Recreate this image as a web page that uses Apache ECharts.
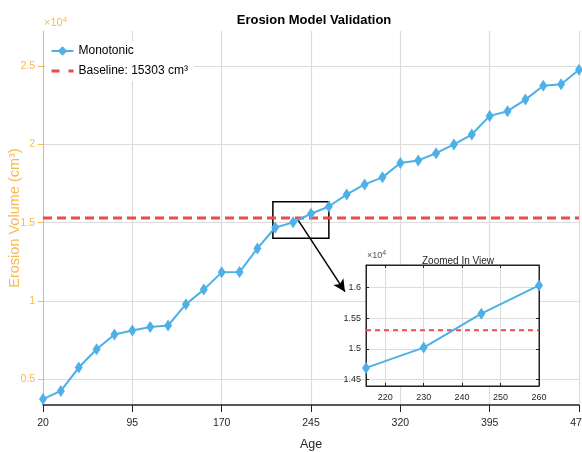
<!DOCTYPE html>
<html>
<head>
<meta charset="utf-8">
<script src="https://cdn.jsdelivr.net/npm/echarts@6/dist/echarts.min.js"></script>
<style>html,body{margin:0;padding:0;background:#fff}#c{width:582px;height:452px}</style>
</head>
<body>
<div id="c"></div>
<script>
// ---- data ----
var ages = [20, 35, 50, 65, 80, 95, 110, 125, 140, 155, 170, 185, 200, 215, 230, 245, 260, 275, 290, 305, 320, 335, 350, 365, 380, 395, 410, 425, 440, 455, 470];
var volume = [3745, 4270, 5760, 6930, 7870, 8120, 8350, 8440, 9800, 10730, 11830, 11850, 13360, 14690, 15020, 15570, 16030, 16800, 17440, 17890, 18800, 18970, 19430, 19990, 20620, 21810, 22110, 22850, 23730, 23830, 24750];
var baseline = 15303;
var xTicks = [20, 95, 170, 245, 320, 395, 470];
var yTicks = [5000, 10000, 15000, 20000, 25000];
var zoomAges = [215, 230, 245, 260];
var zoomXTicks = [220, 230, 240, 250, 260];
var zoomYTicks = [14500, 15000, 15500, 16000];
var zoomRect = [[213, 14000], [260, 16340]];
var arrowFrom = [234.5, 15130];
var arrowTo = [273.5, 10600];

var FONT = '"Liberation Sans", Arial, sans-serif';
var ORANGE = '#F9B84E';
var BLUE = '#4DB0E6';
var RED = '#EB4B4B';
var GRIDC = '#DCDCDC';
var TXT = '#262626';

var mainData = ages.map(function (a, i) { return [a, volume[i]]; });
var zoomData = [];
ages.forEach(function (a, i) { if (zoomAges.indexOf(a) >= 0) zoomData.push([a, volume[i]]); });

var chart = echarts.init(document.getElementById('c'), null, {renderer: 'canvas'});
var fmt = function (v) { return String(+(v / 10000).toFixed(2)); };

chart.setOption({
  animation: false,
  backgroundColor: '#fff',
  textStyle: {fontFamily: FONT},
  title: [
    {text: 'Erosion Model Validation', left: 309, top: 9, textAlign: 'center',
     textStyle: {fontFamily: FONT, fontWeight: 'bold', fontSize: 13, color: '#000'}},
    {text: 'Zoomed In View', left: 453, top: 251, textAlign: 'center',
     textStyle: {fontFamily: FONT, fontWeight: 'normal', fontSize: 10, color: TXT}}
  ],
  legend: {
    left: 46, top: 41, orient: 'vertical', backgroundColor: '#fff', padding: [4, 6, 4, 4],
    itemWidth: 22, itemHeight: 12, itemGap: 8,
    textStyle: {fontFamily: FONT, fontSize: 12, color: '#000'},
    data: [
      {name: 'Monotonic'},
      {name: 'Baseline: 15303 cm\u00b3', itemStyle: {opacity: 0},
       lineStyle: {color: RED, width: 3, type: [8, 9]}}
    ]
  },
  grid: [
    {left: 43, right: 3, top: 31, bottom: 47, containLabel: false, outerBoundsMode: 'none'},
    {left: 366, top: 265, width: 173, height: 121, show: true, borderColor: '#222', borderWidth: 1,
     backgroundColor: 'transparent', z: 5, containLabel: false, outerBoundsMode: 'none'}
  ],
  graphic: [
    {type: 'rect', shape: {x: 366, y: 265, width: 173, height: 121}, style: {fill: '#fff'}, z: 1},
    {type: 'text', left: 44, top: 16, z: 10,
     style: {text: '{a|\u00d710}{b|4}', rich: {a: {fontFamily: FONT, fontSize: 11, fill: ORANGE}, b: {fontFamily: FONT, fontSize: 8, fill: ORANGE, verticalAlign: 'top', padding: [0, 0, 6, 0]}}}},
    {type: 'text', left: 367, top: 250, z: 10,
     style: {text: '{a|\u00d710}{b|4}', rich: {a: {fontFamily: FONT, fontSize: 9, fill: '#555'}, b: {fontFamily: FONT, fontSize: 7, fill: '#555', padding: [0, 0, 5, 0]}}}}
  ],
  xAxis: [
    {type: 'value', gridIndex: 0, min: 20, max: 470, name: 'Age', nameLocation: 'middle', nameGap: 33,
     nameMoveOverlap: false,
     nameTextStyle: {fontFamily: FONT, fontSize: 12.5, color: TXT},
     axisLine: {show: true, onZero: false, lineStyle: {color: '#222', width: 1.5}},
     axisTick: {show: true, inside: false, length: 7, customValues: xTicks, lineStyle: {color: '#222'}},
     axisLabel: {customValues: xTicks, margin: 13, fontFamily: FONT, fontSize: 10.5, color: TXT},
     splitLine: {show: true, lineStyle: {color: GRIDC, width: 1.2}}},
    {type: 'value', gridIndex: 1, min: 215, max: 260, z: 6,
     axisLine: {show: true, onZero: false, lineStyle: {color: '#222'}},
     axisTick: {show: true, inside: true, length: 3, customValues: zoomXTicks, lineStyle: {color: '#222'}},
     axisLabel: {customValues: zoomXTicks, margin: 7, fontFamily: FONT, fontSize: 9, color: TXT},
     splitLine: {show: true, lineStyle: {color: GRIDC}}},
    {type: 'value', gridIndex: 1, min: 215, max: 260, position: 'top', z: 6,
     axisLine: {show: true, onZero: false, lineStyle: {color: '#222'}},
     axisTick: {show: true, inside: true, length: 3, customValues: zoomXTicks, lineStyle: {color: '#222'}},
     axisLabel: {show: false}, splitLine: {show: false}}
  ],
  yAxis: [
    {type: 'value', gridIndex: 0, min: 3370, max: 27225,
     name: 'Erosion Volume (cm\u00b3)', nameLocation: 'middle', nameGap: 21, nameMoveOverlap: false,
     nameTextStyle: {fontFamily: FONT, fontSize: 14.5, color: ORANGE},
     axisLine: {show: true, onZero: false, lineStyle: {color: ORANGE, width: 1}},
     axisTick: {show: true, inside: false, length: 5, customValues: yTicks, lineStyle: {color: ORANGE}},
     axisLabel: {customValues: yTicks, formatter: fmt, margin: 8, fontFamily: FONT, fontSize: 10.5, color: ORANGE},
     splitLine: {show: true, lineStyle: {color: GRIDC, width: 1.2}}},
    {type: 'value', gridIndex: 1, min: 14396, max: 16361, z: 6,
     axisLine: {show: true, onZero: false, lineStyle: {color: '#222'}},
     axisTick: {show: true, inside: true, length: 3, customValues: zoomYTicks, lineStyle: {color: '#222'}},
     axisLabel: {customValues: zoomYTicks, formatter: fmt, margin: 5, fontFamily: FONT, fontSize: 9, color: TXT},
     splitLine: {show: true, lineStyle: {color: GRIDC}}},
    {type: 'value', gridIndex: 1, min: 14396, max: 16361, position: 'right', z: 6,
     axisLine: {show: true, onZero: false, lineStyle: {color: '#222'}},
     axisTick: {show: true, inside: true, length: 3, customValues: zoomYTicks, lineStyle: {color: '#222'}},
     axisLabel: {show: false}, splitLine: {show: false}}
  ],
  series: [
    {name: 'Monotonic', type: 'line', xAxisIndex: 0, yAxisIndex: 0, data: mainData, z: 4,
     symbol: 'diamond', symbolSize: [8, 12], showAllSymbol: true,
     lineStyle: {color: BLUE, width: 2}, itemStyle: {color: BLUE},
     markArea: {silent: true, itemStyle: {color: 'rgba(0,0,0,0)', borderColor: '#000', borderWidth: 1.5},
       data: [[{coord: zoomRect[0]}, {coord: zoomRect[1]}]]},
     markLine: {silent: true, symbol: ['none', 'arrow'], symbolSize: [9, 12],
       lineStyle: {color: '#000', width: 1.5, type: 'solid'}, label: {show: false},
       data: [[{coord: arrowFrom}, {coord: arrowTo}]]}},
    {name: 'Baseline: 15303 cm\u00b3', type: 'line', xAxisIndex: 0, yAxisIndex: 0, z: 3,
     data: [[ages[0], baseline], [ages[ages.length - 1], baseline]], symbol: 'none',
     lineStyle: {color: RED, width: 3, type: [9, 5]}, itemStyle: {color: RED}},
    {name: 'zoomLine', type: 'line', xAxisIndex: 1, yAxisIndex: 1, data: zoomData, z: 8,
     symbol: 'diamond', symbolSize: [8, 12], lineStyle: {color: BLUE, width: 2}, itemStyle: {color: BLUE}},
    {name: 'zoomBase', type: 'line', xAxisIndex: 1, yAxisIndex: 1, z: 7,
     data: [[zoomAges[0], baseline], [zoomAges[zoomAges.length - 1], baseline]], symbol: 'none',
     lineStyle: {color: RED, width: 2, type: [5, 4]}}
  ]
});
</script>
</body>
</html>
